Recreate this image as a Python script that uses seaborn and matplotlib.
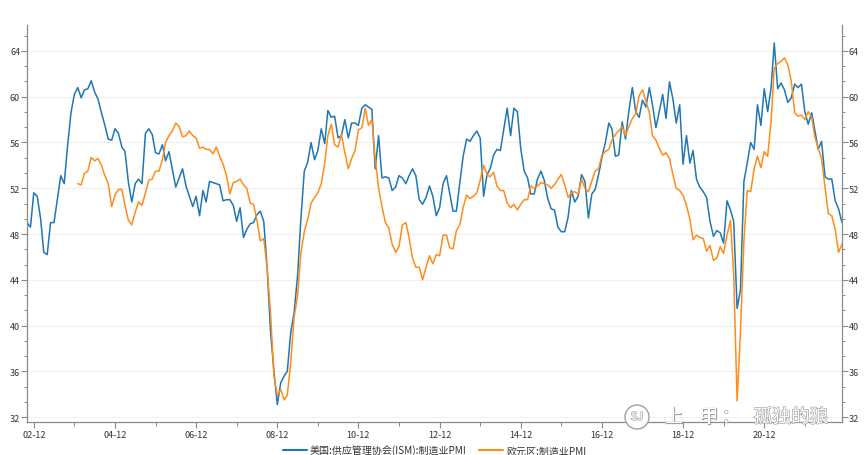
import numpy as np
import pandas as pd
import matplotlib
matplotlib.use("Agg")
import matplotlib.pyplot as plt
import seaborn as sns
from matplotlib.ticker import MultipleLocator
import matplotlib.patheffects as pe
from matplotlib.patches import Ellipse

# ---------------- data ----------------
series_names = ["美国:供应管理协会(ISM):制造业PMI", "欧元区:制造业PMI"]
us_start = "2002-10"
ez_start = "2004-01"

us_pmi = [
    49.0, 48.6, 51.6,
    51.3, 49.3, 46.4, 46.2, 49.0, 49.0, 51.0, 53.1, 52.4, 55.7, 58.6, 60.2,
    60.8, 59.9, 60.6, 60.7, 61.4, 60.4, 59.8, 58.6, 57.5, 56.3, 56.2, 57.2,
    56.8, 55.6, 55.2, 52.5, 50.8, 52.4, 52.8, 52.4, 56.8, 57.2, 56.7, 55.1,
    55.0, 55.8, 54.4, 55.2, 53.7, 52.1, 52.9, 53.7, 52.2, 51.3, 50.4, 51.3,
    49.6, 51.8, 50.8, 52.6, 52.5, 52.4, 52.3, 50.9, 51.0, 51.0, 50.5, 49.1,
    50.3, 47.7, 48.4, 48.9, 49.0, 49.7, 50.0, 49.1, 45.0, 39.5, 36.0, 33.1,
    35.0, 35.6, 36.0, 39.4, 41.1, 44.3, 49.3, 53.5, 54.3, 56.0, 54.5, 55.3,
    57.2, 55.9, 58.8, 58.2, 58.3, 56.4, 56.6, 58.0, 56.4, 57.7, 57.7, 57.5,
    59.0, 59.3, 59.1, 58.9, 53.7, 56.6, 52.9, 53.0, 52.9, 51.8, 52.1, 53.1,
    52.9, 52.4, 53.1, 53.7, 53.1, 51.0, 50.6, 51.2, 52.2, 51.3, 49.6, 50.3,
    52.4, 53.1, 51.6, 50.0, 50.0, 52.5, 54.8, 56.3, 56.1, 56.6, 57.0, 56.4,
    51.3, 53.2, 53.7, 54.9, 55.4, 55.3, 57.1, 59.0, 56.6, 59.0, 58.7, 55.5,
    53.5, 52.9, 51.5, 51.5, 52.8, 53.5, 52.7, 51.1, 50.2, 50.1, 48.6, 48.2,
    48.2, 49.5, 51.8, 50.8, 51.3, 53.2, 52.6, 49.4, 51.5, 51.9, 53.2, 54.7,
    56.0, 57.7, 57.2, 54.8, 54.9, 57.8, 56.3, 58.8, 60.8, 58.7, 58.2, 59.7,
    59.1, 60.8, 59.3, 57.3, 58.7, 60.2, 58.1, 61.3, 59.8, 57.7, 59.3, 54.1,
    56.6, 54.2, 55.3, 52.8, 52.1, 51.7, 51.2, 49.1, 47.8, 48.3, 48.1, 47.2,
    50.9, 50.1, 49.1, 41.5, 43.1, 52.6, 54.2, 56.0, 55.4, 59.3, 57.5, 60.7,
    58.7, 60.8, 64.7, 60.7, 61.2, 60.6, 59.5, 59.9, 61.1, 60.8, 61.1, 58.7,
    57.6, 58.6, 57.1, 55.4, 56.1, 53.0, 52.8, 52.8, 50.9, 50.2, 49.0,
]

ez_pmi = [
    52.4, 52.3, 53.3, 53.5, 54.7, 54.4, 54.6, 54.0, 53.1, 52.4, 50.4, 51.4,
    51.9, 51.9, 50.5, 49.2, 48.8, 49.9, 50.8, 50.5, 51.6, 52.7, 52.8, 53.5,
    53.5, 54.5, 56.0, 56.6, 57.0, 57.7, 57.4, 56.5, 56.6, 57.0, 56.6, 56.4,
    55.5, 55.6, 55.4, 55.4, 55.0, 55.6, 54.8, 54.1, 53.1, 51.5, 52.5, 52.6,
    52.8, 52.3, 52.0, 50.7, 50.6, 49.2, 47.4, 47.6, 45.0, 41.1, 35.6, 33.9,
    34.4, 33.5, 33.9, 36.8, 40.7, 42.6, 46.3, 48.2, 49.3, 50.7, 51.2, 51.6,
    52.4, 54.2, 56.6, 57.6, 55.8, 55.6, 56.7, 55.1, 53.7, 54.6, 55.3, 57.1,
    57.3, 59.0, 57.5, 58.0, 54.6, 52.0, 50.4, 49.0, 48.5, 47.1, 46.4, 46.9,
    48.8, 49.0, 47.7, 45.9, 45.1, 45.1, 44.0, 45.1, 46.1, 45.4, 46.2, 46.1,
    47.9, 47.9, 46.8, 46.7, 48.3, 48.8, 50.3, 51.4, 51.1, 51.3, 51.6, 52.7,
    54.0, 53.2, 53.0, 53.4, 52.2, 51.8, 51.8, 50.7, 50.3, 50.6, 50.1, 50.6,
    51.0, 51.0, 52.2, 52.0, 52.2, 52.5, 52.4, 52.3, 52.0, 52.3, 52.8, 53.2,
    52.3, 51.2, 51.6, 51.7, 51.5, 52.8, 52.0, 51.7, 52.6, 53.5, 53.7, 54.9,
    55.2, 55.4, 56.2, 56.7, 57.0, 57.4, 56.6, 57.4, 58.1, 58.5, 60.1, 60.6,
    59.6, 58.6, 56.6, 56.2, 55.5, 54.9, 55.1, 54.6, 53.2, 52.0, 51.8, 51.4,
    50.5, 49.3, 47.5, 47.9, 47.7, 47.6, 46.5, 47.0, 45.7, 45.9, 46.9, 46.3,
    47.9, 49.2, 44.5, 33.4, 39.4, 47.4, 51.8, 51.7, 53.7, 54.8, 53.8, 55.2,
    54.8, 57.9, 62.5, 62.9, 63.1, 63.4, 62.8, 61.4, 58.6, 58.3, 58.4, 58.0,
    58.7, 58.2, 56.5, 55.5, 54.6, 52.1, 49.8, 49.6, 48.4, 46.4, 47.1,
]

y_ticks = [32, 36, 40, 44, 48, 52, 56, 60, 64]
x_tick_labels = ["02-12", "04-12", "06-12", "08-12", "10-12",
                 "12-12", "14-12", "16-12", "18-12", "20-12"]
x_minor_labels = ["03-12", "05-12", "07-12", "09-12", "11-12",
                  "13-12", "15-12", "17-12", "19-12", "21-12"]
watermark = ["上", "甲", "：", "孤独的狼"]

# ---------------- frame ----------------
us_dates = pd.date_range(us_start, periods=len(us_pmi), freq="MS")
ez_dates = pd.date_range(ez_start, periods=len(ez_pmi), freq="MS")
df = pd.concat([
    pd.DataFrame({"date": us_dates, "value": us_pmi, "series": series_names[0]}),
    pd.DataFrame({"date": ez_dates, "value": ez_pmi, "series": series_names[1]}),
], ignore_index=True)

sns.set_theme(style="white")
plt.rcParams["font.family"] = ["Noto Sans CJK SC", "DejaVu Sans"]
plt.rcParams["axes.unicode_minus"] = False

W, H = 864, 456
fig = plt.figure(figsize=(W / 100, H / 100), dpi=100)
ax = fig.add_axes([27 / W, 1 - 423 / H, (842 - 27) / W, (423 - 26) / H])

blue = "#1f77b4"
orange = "#ff8c1a"
sns.lineplot(data=df, x="date", y="value", hue="series",
             palette=[blue, orange], hue_order=series_names,
             linewidth=1.1, ax=ax)

ax.set_xlim(us_dates[0], us_dates[-1])
ax.set_ylim(31.57, 66.27)
ax.set_xlabel("")
ax.set_ylabel("")

def to_date(lbl):
    return pd.to_datetime("20" + lbl, format="%Y-%m")

major_x = [to_date(l) for l in x_tick_labels]
minor_x = [to_date(l) for l in x_minor_labels]
ax.set_xticks(major_x)
ax.set_xticklabels(x_tick_labels)
ax.set_xticks(minor_x, minor=True)

ax.set_yticks(y_ticks)
ax.set_yticklabels([str(v) for v in y_ticks])
ax.yaxis.set_minor_locator(MultipleLocator(4 / 3))

spine_c = "#8a8a8a"
for s in ["left", "right", "bottom"]:
    ax.spines[s].set_visible(True)
    ax.spines[s].set_color(spine_c)
    ax.spines[s].set_linewidth(0.9)
ax.spines["top"].set_visible(False)

ax.yaxis.grid(True, color="#f0f0f0", linewidth=0.8)
ax.xaxis.grid(False)

ax.tick_params(axis="y", which="major", direction="out", length=4, width=0.8,
               color=spine_c, labelsize=6.5, labelcolor="#333333",
               left=True, right=True, labelleft=True, labelright=True, pad=1)
ax.tick_params(axis="y", which="minor", direction="out", length=2.2, width=0.7,
               color=spine_c, left=True, right=True)
ax.tick_params(axis="x", which="major", direction="out", length=4, width=0.8,
               color=spine_c, labelsize=6.5, labelcolor="#333333",
               bottom=True, pad=2)
ax.tick_params(axis="x", which="minor", direction="out", length=3, width=0.7,
               color=spine_c, bottom=True)

sns.move_legend(ax, "center", bbox_to_anchor=(0.5, -(451 - 423) / (423 - 26)),
                ncol=2, frameon=False, title=None, fontsize=7.2,
                handlelength=2.4, columnspacing=1.2, handletextpad=0.3)
for t in ax.get_legend().get_texts():
    t.set_color("#333333")
for l in ax.get_legend().get_lines():
    l.set_linewidth(1.5)

# ---------------- watermark ----------------
stroke = [pe.withStroke(linewidth=0.9, foreground="#a0a0a0")]
wm_x = [674, 709, 731, 791]
wm_y = 418
for txt, xp in zip(watermark, wm_x):
    fig.text(xp / W, 1 - wm_y / H, txt, fontsize=13.5, color="white",
             ha="center", va="center", path_effects=stroke, zorder=10)
fig.patches.append(Ellipse((637 / W, 1 - wm_y / H), 24 / W, 24 / H,
                           transform=fig.transFigure, facecolor="white",
                           edgecolor="#a0a0a0", linewidth=1.0, zorder=9))
fig.text(637 / W, 1 - wm_y / H, "SJ", fontsize=8, color="white",
         ha="center", va="center", path_effects=stroke, zorder=10)

fig.savefig("out.png", dpi=100)
